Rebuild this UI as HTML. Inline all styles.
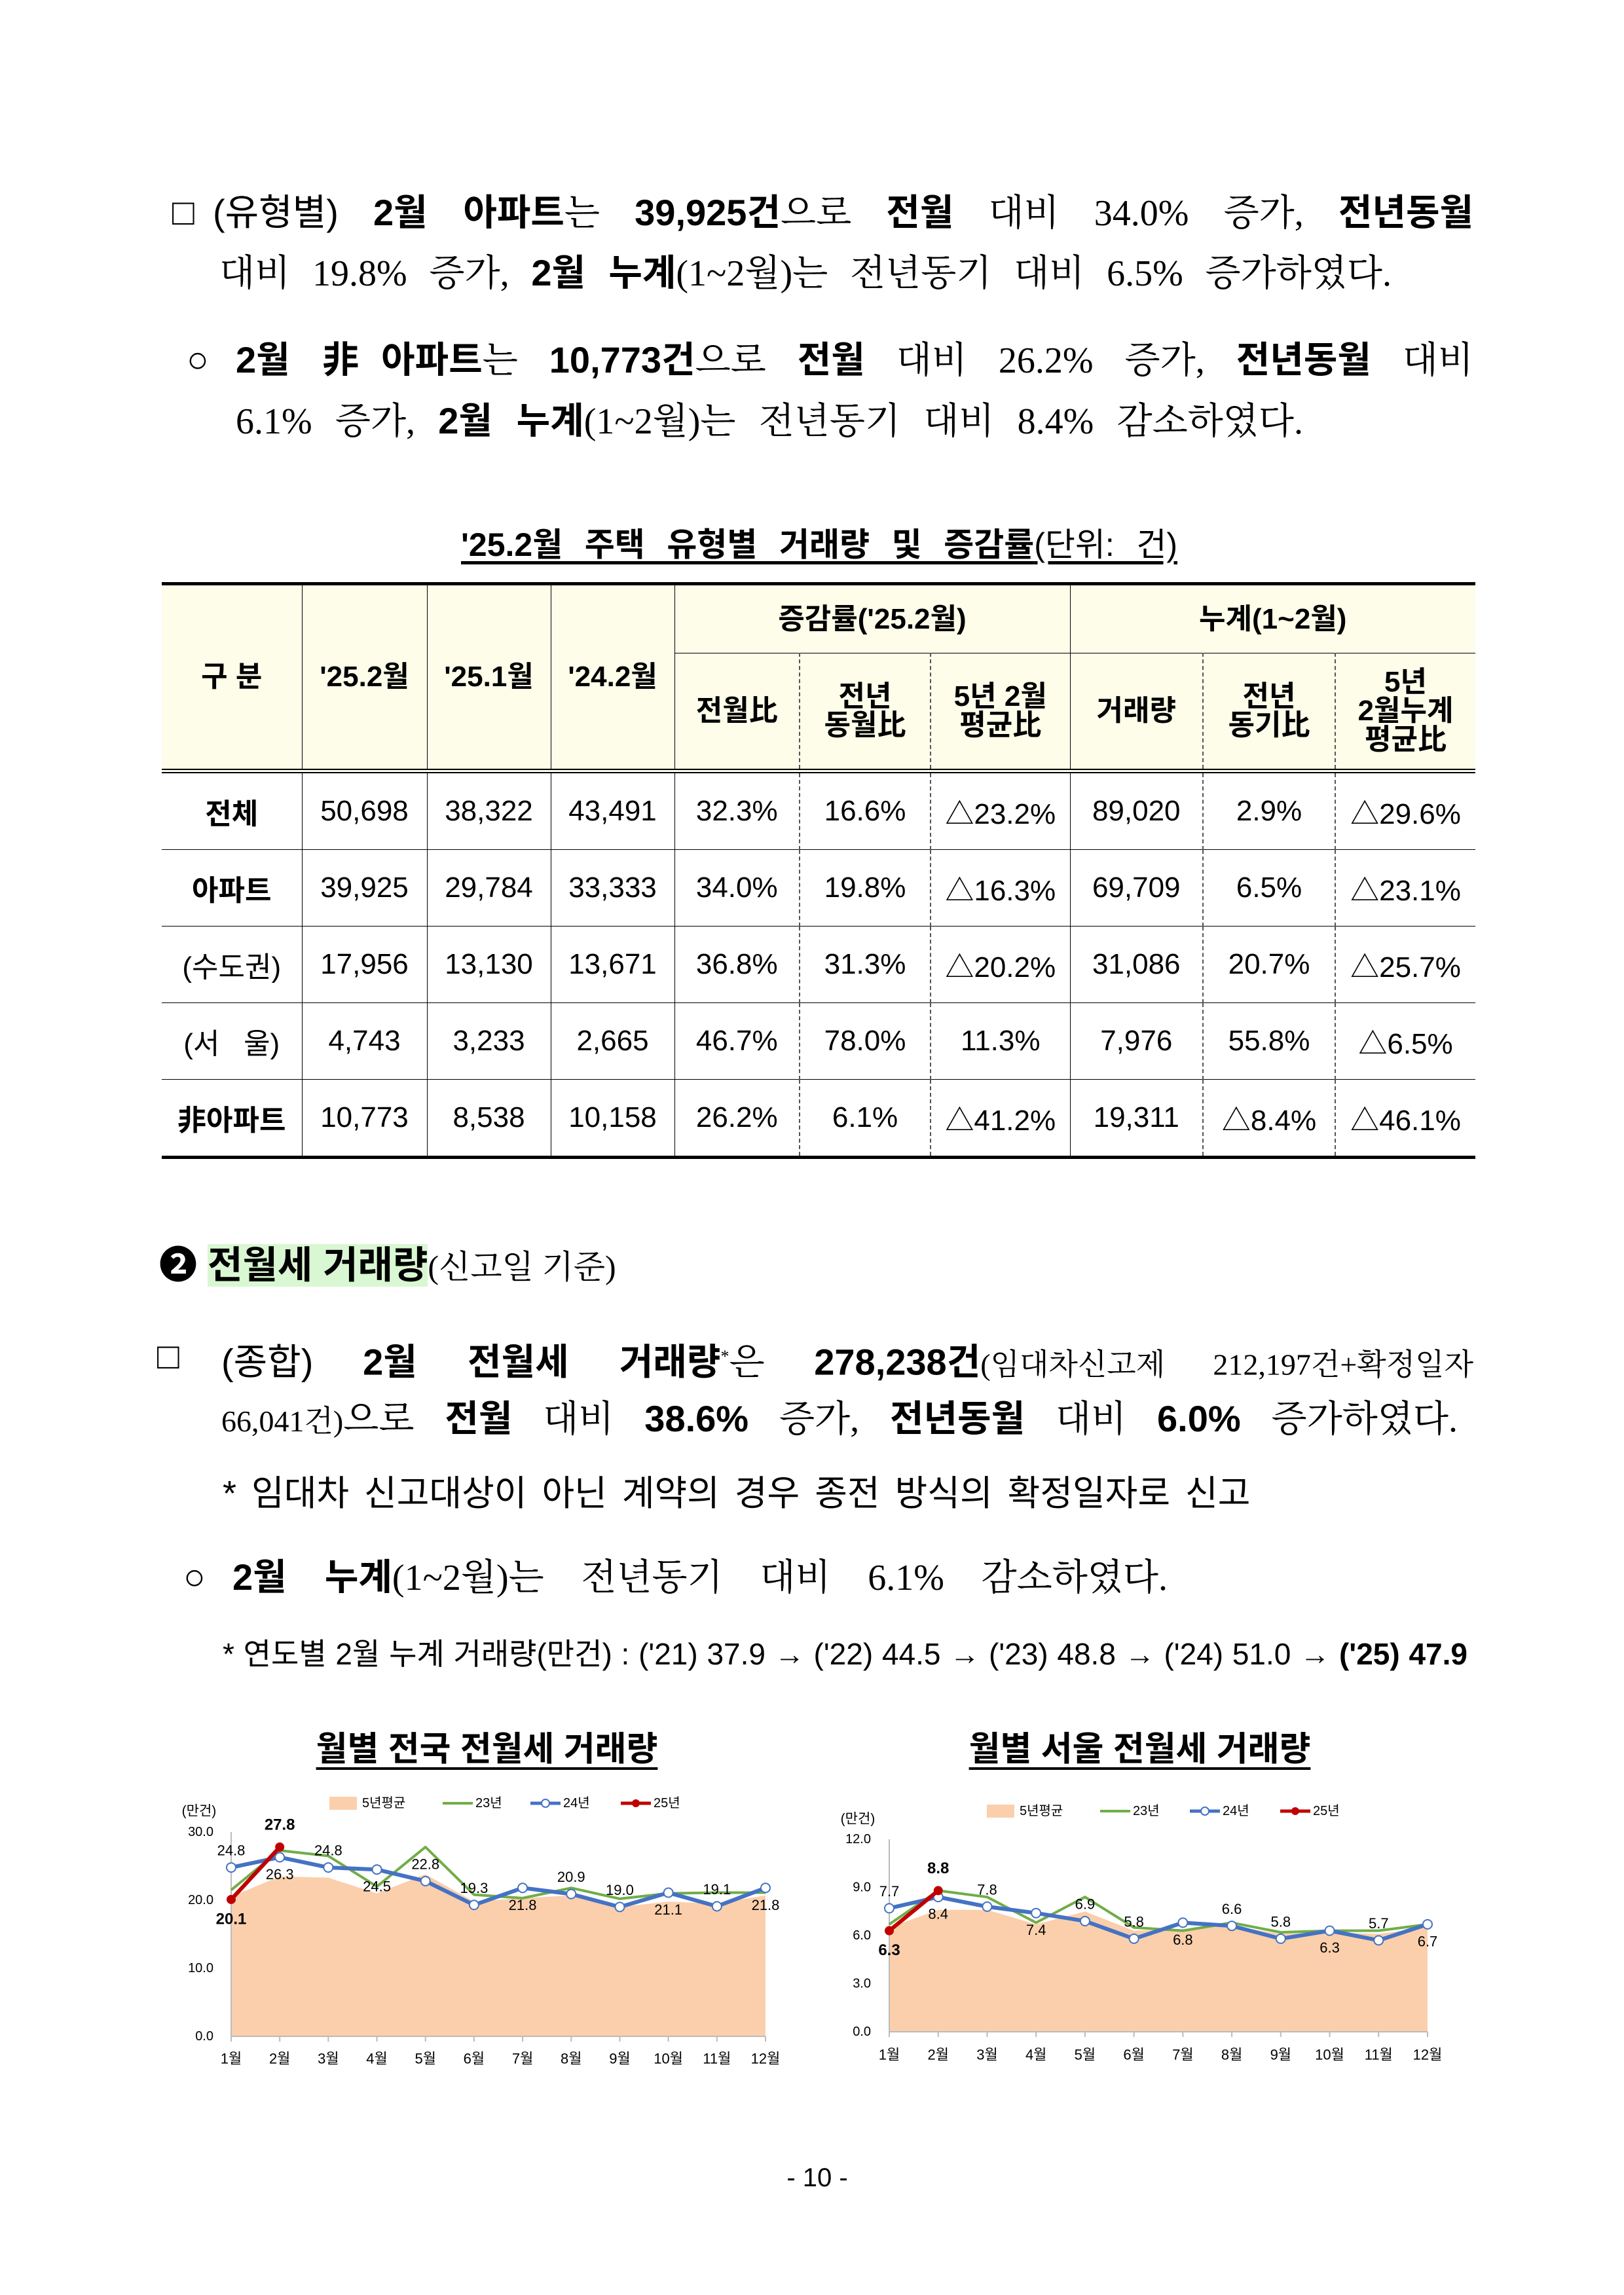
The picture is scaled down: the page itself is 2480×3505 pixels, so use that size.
<!DOCTYPE html>
<html><head><meta charset="utf-8">
<style>
body{margin:0;background:#fff;}
#page{position:relative;width:2480px;height:3505px;background:#fff;overflow:hidden;
font-family:"Liberation Serif","Noto Serif CJK SC",serif;color:#000;}
.ln{position:absolute;white-space:nowrap;font-size:56px;line-height:80px;height:80px;}
.j{text-align:justify;text-align-last:justify;text-justify:inter-word;white-space:normal;}
.b{font-family:"Liberation Sans","Noto Sans CJK KR",sans-serif;font-weight:bold;}
.s{font-family:"Liberation Sans","Noto Sans CJK KR",sans-serif;}
table.t{position:absolute;left:247px;top:889px;width:2006px;border-collapse:collapse;table-layout:fixed;
font-family:"Liberation Sans","Noto Sans CJK KR",sans-serif;font-size:44px;}
table.t td{text-align:center;vertical-align:middle;border:1.5px solid #000;padding:0;}
table.t thead td{background:#fdfdea;font-weight:bold;line-height:1.0;}
table.t tr.r td{height:116px;}
table.t td.d{border-right:2px dashed #555;}
table.t td.e0{border-left:none;}
table.t td.e1{border-right:none;}
</style></head><body>
<div id="page">

<div class="ln" style="left:263px;top:285px;">□</div>
<div class="ln j" style="left:325px;top:285px;width:1925px;"><span class="s">(유형별)</span> <span class="b">2월 아파트</span>는 <span class="b">39,925건</span>으로 <span class="b">전월</span> 대비 34.0% 증가, <span class="b">전년동월</span></div>
<div class="ln j" style="left:335px;top:377px;width:1790px;">대비 19.8% 증가, <span class="b">2월 누계</span>(1~2월)는 전년동기 대비 6.5% 증가하였다.</div>

<div class="ln" style="left:285px;top:510px;">○</div>
<div class="ln j" style="left:360px;top:510px;width:1890px;"><span class="b">2월 非아파트</span>는 <span class="b">10,773건</span>으로 <span class="b">전월</span> 대비 26.2% 증가, <span class="b">전년동월</span> 대비</div>
<div class="ln j" style="left:360px;top:603px;width:1630px;">6.1% 증가, <span class="b">2월 누계</span>(1~2월)는 전년동기 대비 8.4% 감소하였다.</div>

<div class="ln b j" style="left:704px;width:1094px;top:792px;font-size:50px;"><span style="text-decoration:underline;text-underline-offset:8px;">'25.2월 주택 유형별 거래량 및 증감률</span><span class="s" style="font-weight:normal;text-decoration:underline;text-underline-offset:8px;">(단위: 건)</span></div>

<table class="t">
<colgroup><col style="width:214px"><col style="width:191px"><col style="width:189px"><col style="width:189px"><col style="width:191px"><col style="width:200px"><col style="width:213px"><col style="width:203px"><col style="width:202px"><col style="width:214px"></colgroup>
<thead>
<tr style="height:106px;border-top:5px solid #000;"><td rowspan="2" class="e0">구 분</td><td rowspan="2">'25.2월</td><td rowspan="2">'25.1월</td><td rowspan="2">'24.2월</td><td colspan="3">증감률('25.2월)</td><td colspan="3" class="e1">누계(1~2월)</td></tr>
<tr style="height:180px;border-bottom:7px double #000;"><td class="d">전월比</td><td class="d">전년<br>동월比</td><td>5년 2월<br>평균比</td><td class="d">거래량</td><td class="d">전년<br>동기比</td><td class="e1">5년<br>2월누계<br>평균比</td></tr>
</thead>
<tbody>
<tr class="r"><td class="e0 b">전체</td><td>50,698</td><td>38,322</td><td>43,491</td><td class="d">32.3%</td><td class="d">16.6%</td><td>△23.2%</td><td class="d">89,020</td><td class="d">2.9%</td><td class="e1">△29.6%</td></tr>
<tr class="r"><td class="e0 b">아파트</td><td>39,925</td><td>29,784</td><td>33,333</td><td class="d">34.0%</td><td class="d">19.8%</td><td>△16.3%</td><td class="d">69,709</td><td class="d">6.5%</td><td class="e1">△23.1%</td></tr>
<tr class="r"><td class="e0">(수도권)</td><td>17,956</td><td>13,130</td><td>13,671</td><td class="d">36.8%</td><td class="d">31.3%</td><td>△20.2%</td><td class="d">31,086</td><td class="d">20.7%</td><td class="e1">△25.7%</td></tr>
<tr class="r"><td class="e0">(서&nbsp;&nbsp;&nbsp;울)</td><td>4,743</td><td>3,233</td><td>2,665</td><td class="d">46.7%</td><td class="d">78.0%</td><td>11.3%</td><td class="d">7,976</td><td class="d">55.8%</td><td class="e1">△6.5%</td></tr>
<tr class="r" style="border-bottom:5px solid #000;"><td class="e0 b">非아파트</td><td>10,773</td><td>8,538</td><td>10,158</td><td class="d">26.2%</td><td class="d">6.1%</td><td>△41.2%</td><td class="d">19,311</td><td class="d">△8.4%</td><td class="e1">△46.1%</td></tr>
</tbody></table>

<div class="ln b" style="left:243px;top:1893px;font-size:58px;">❷ <span style="background:#d9f7d2;">전월세 거래량</span><span style="font-family:'Liberation Serif','Noto Serif CJK SC',serif;font-weight:normal;font-size:50px;">(신고일 기준)</span></div>

<div class="ln" style="left:240px;top:2032px;">□</div>
<div class="ln j" style="left:338px;top:2032px;width:1912px;"><span class="s">(종합)</span> <span class="b">2월 전월세 거래량</span><sup style="font-size:26px;">*</sup>은 <span class="b">278,238건</span><span style="font-size:46px;">(임대차신고제 212,197건+확정일자</span></div>
<div class="ln j" style="left:338px;top:2127px;width:1888px;"><span style="font-size:46px;">66,041건)</span>으로 <span class="b">전월</span> 대비 <span class="b">38.6%</span> 증가, <span class="b">전년동월</span> 대비 <span class="b">6.0%</span> 증가하였다.</div>
<div class="ln s" style="left:340px;top:2241px;font-size:54px;word-spacing:8px;">* 임대차 신고대상이 아닌 계약의 경우 종전 방식의 확정일자로 신고</div>
<div class="ln" style="left:280px;top:2369px;">○</div>
<div class="ln j" style="left:355px;top:2369px;width:1428px;"><span class="b">2월 누계</span>(1~2월)는 전년동기 대비 6.1% 감소하였다.</div>
<div class="ln s" style="left:340px;top:2486px;font-size:46px;word-spacing:1px;">* 연도별 2월 누계 거래량(만건) : ('21) 37.9 → ('22) 44.5 → ('23) 48.8 → ('24) 51.0 → <b>('25) 47.9</b></div>

<div class="ln b" style="left:455px;width:577px;text-align:center;top:2632px;font-size:52px;"><span style="text-decoration:underline;text-underline-offset:10px;text-decoration-thickness:4px;">월별 전국 전월세 거래량</span></div>
<div class="ln b" style="left:1452px;width:577px;text-align:center;top:2632px;font-size:52px;"><span style="text-decoration:underline;text-underline-offset:10px;text-decoration-thickness:4px;">월별 서울 전월세 거래량</span></div>

<svg id="charts" width="2480" height="3505" style="position:absolute;left:0;top:0;"></svg>

<div class="ln s" style="left:0;width:2496px;text-align:center;top:3286px;font-size:40px;">- 10 -</div>
</div>

<script>
const months = ['1월','2월','3월','4월','5월','6월','7월','8월','9월','10월','11월','12월'];
const legendNames = ['5년평균','23년','24년','25년'];
// national (만건)
const natAvg5 = [20.5,23.5,23.3,21.0,23.8,19.8,20.3,20.7,19.0,19.8,19.5,20.7];
const nat23 = [21.5,27.3,26.5,22.0,27.8,20.8,20.3,21.8,20.2,21.0,21.1,21.1];
const nat24 = [24.8,26.3,24.8,24.5,22.8,19.3,21.8,20.9,19.0,21.1,19.1,21.8];
const nat25 = [20.1,27.8];
const natTicks = [0,10,20,30];
const natTickLabels = ['0.0','10.0','20.0','30.0'];
// seoul (만건)
const seoAvg5 = [6.5,7.6,7.6,6.7,7.5,6.3,6.4,6.6,6.1,6.2,6.1,6.5];
const seo23 = [6.7,8.8,8.4,6.8,8.4,6.5,6.3,6.8,6.2,6.3,6.3,6.7];
const seo24 = [7.7,8.4,7.8,7.4,6.9,5.8,6.8,6.6,5.8,6.3,5.7,6.7];
const seo25 = [6.3,8.8];
const seoTicks = [0,3,6,9,12];
const seoTickLabels = ['0.0','3.0','6.0','9.0','12.0'];
// label placement for 24년 series: 1 = above, -1 = below
const labelSide24 = [1,-1,1,-1,1,1,-1,1,1,-1,1,-1];

const NS='http://www.w3.org/2000/svg';
const svg=document.getElementById('charts');
const FONT='"Liberation Sans","Noto Sans CJK KR",sans-serif';
function el(tag,attrs,parent){const e=document.createElementNS(NS,tag);for(const k in attrs)e.setAttribute(k,attrs[k]);(parent||svg).appendChild(e);return e;}
function txt(s,x,y,size,anchor,weight,parent){const t=el('text',{x:x,y:y,'font-size':size,'text-anchor':anchor||'middle','font-family':FONT,'font-weight':weight||'normal','dominant-baseline':'central',fill:'#000'},parent);t.textContent=s;return t;}

function drawChart(prefix,cfg,avg,s23,s24,s25,ticks,tickLabels){
  const g=el('g',{});
  
  
  const maxV=ticks[ticks.length-1];
  const X=i=>cfg.x0+(cfg.x1-cfg.x0)*i/(months.length-1);
  const Y=v=>cfg.y0-(cfg.y0-cfg.yTop)*v/maxV;
  let d='M'+X(0)+','+Y(0);
  avg.forEach((v,i)=>{d+=' L'+X(i)+','+Y(v);});
  d+=' L'+X(avg.length-1)+','+Y(0)+' Z';
  const area=el('path',{d:d,fill:'#fbcfac',stroke:'none'},g);
  
  
  el('line',{x1:cfg.x0,y1:cfg.yTop,x2:cfg.x0,y2:cfg.y0,stroke:'#bbb','stroke-width':2},g);
  el('line',{x1:cfg.x0,y1:cfg.y0,x2:cfg.x1,y2:cfg.y0,stroke:'#bbb','stroke-width':2},g);
  ticks.forEach((t,i)=>{
    const lab=txt(tickLabels[i],cfg.yLabX,Y(t),20,'end','normal',g);
    
    
  });
  months.forEach((m,i)=>{
    el('line',{x1:X(i),y1:cfg.y0,x2:X(i),y2:cfg.y0+8,stroke:'#bbb','stroke-width':2},g);
    const lab=txt(m,X(i),cfg.monthY,22,'middle','normal',g);
    
    
  });
  const unit=txt('(만건)',cfg.unitX,cfg.unitY,21,'middle','normal',g);
  
  
  function poly(arr,color,w,name){
    const p=el('polyline',{points:arr.map((v,i)=>X(i)+','+Y(v)).join(' '),fill:'none',stroke:color,'stroke-width':w,'stroke-linejoin':'round'},g);
    
    
  }
  poly(s23,'#70ad47',4,prefix+'-line-23');
  poly(s24,'#4472c4',6,prefix+'-line-24');
  s24.forEach((v,i)=>{
    const c=el('circle',{cx:X(i),cy:Y(v),r:7,fill:'#fff',stroke:'#4472c4','stroke-width':2},g);
    
    
    const l=txt(v.toFixed(1),X(i),Y(v)-labelSide24[i]*26,22,'middle','normal',g);
    
    
  });
  poly(s25,'#c00000',6,prefix+'-line-25');
  s25.forEach((v,i)=>{
    const c=el('circle',{cx:X(i),cy:Y(v),r:7,fill:'#c00000'},g);
    
    
    const side = i===0 ? -1 : 1;
    const l=txt(v.toFixed(1),X(i),Y(v)-side*(i===0?30:34),24,'middle','bold',g);
    
    
  });
  const L=cfg.leg, ly=cfg.legY;
  const r=el('rect',{x:L[0],y:ly-10,width:42,height:20,fill:'#fbcfac'},g);
  
  
  txt(legendNames[0],L[0]+50,ly,20,'start','normal',g);
  el('line',{x1:L[1],y1:ly,x2:L[1]+46,y2:ly,stroke:'#70ad47','stroke-width':4},g);
  txt(legendNames[1],L[1]+50,ly,20,'start','normal',g);
  el('line',{x1:L[2],y1:ly,x2:L[2]+46,y2:ly,stroke:'#4472c4','stroke-width':5},g);
  el('circle',{cx:L[2]+23,cy:ly,r:6,fill:'#fff',stroke:'#4472c4','stroke-width':2},g);
  txt(legendNames[2],L[2]+50,ly,20,'start','normal',g);
  el('line',{x1:L[3],y1:ly,x2:L[3]+46,y2:ly,stroke:'#c00000','stroke-width':5},g);
  el('circle',{cx:L[3]+23,cy:ly,r:6,fill:'#c00000'},g);
  txt(legendNames[3],L[3]+50,ly,20,'start','normal',g);
}
drawChart('national',{x0:353,x1:1169,y0:3110,yTop:2798,yLabX:326,monthY:3144,unitX:304,unitY:2766,legY:2754,leg:[503,676,810,948]},
  natAvg5,nat23,nat24,nat25,natTicks,natTickLabels);
drawChart('seoul',{x0:1358,x1:2180,y0:3103,yTop:2809,yLabX:1330,monthY:3138,unitX:1310,unitY:2778,legY:2766,leg:[1507,1680,1817,1955]},
  seoAvg5,seo23,seo24,seo25,seoTicks,seoTickLabels);
</script>
</body></html>
